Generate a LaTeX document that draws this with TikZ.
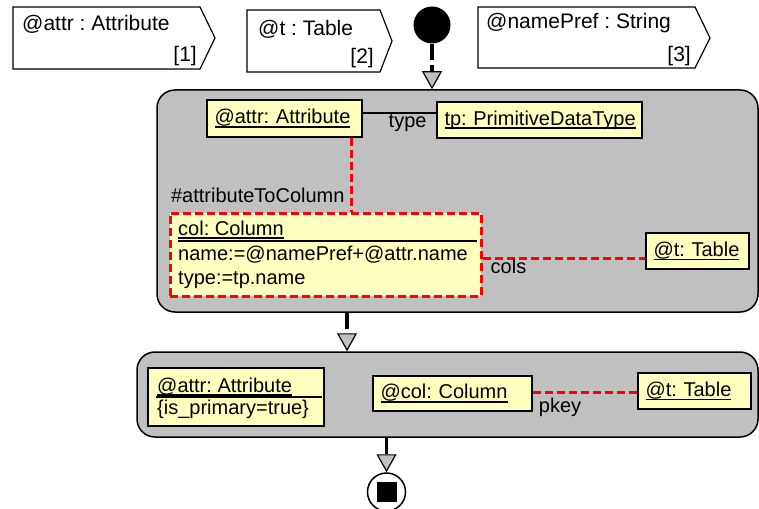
\documentclass[tikz,border=0pt]{standalone}
\usepackage{fontspec}
\setmainfont{Liberation Sans}
\usetikzlibrary{arrows.meta}
\frenchspacing

\definecolor{actgray}{RGB}{192,192,192}
\definecolor{objyellow}{RGB}{255,255,192}

% object name with a heavy underline
\newcommand{\objname}[1]{\setbox0\hbox{#1}\rlap{\rule[-3.8pt]{\wd0}{1.6pt}}\box0}

\tikzset{
  action/.style={draw, line width=1.5pt, fill=actgray, rounded corners=18pt, inner sep=0pt},
  object/.style={draw, line width=1.5pt, fill=objyellow, inner xsep=7.5pt, inner ysep=0pt,
    align=left, font=\fontsize{20}{24}\selectfont},
  newobj/.style={draw=red, line width=3pt, dash pattern=on 8pt off 4pt, fill=objyellow, inner sep=0pt},
  lbl/.style={inner sep=0pt, text=black, font=\fontsize{20}{24}\selectfont},
  paramlbl/.style={inner sep=0pt, font=\fontsize{21}{25}\selectfont},
  param/.style={draw, line width=1.2pt, fill=white},
  link/.style={line width=1.5pt},
  newlink/.style={red, line width=3pt, dash pattern=on 8pt off 4pt},
  flow/.style={line width=3.5pt, dash pattern=on 16pt off 5pt,
    -{Triangle[width=20pt, length=18pt, fill=actgray, line width=1.2pt]}},
}

\begin{document}
\begin{tikzpicture}[x=1pt, y=-1pt]
\useasboundingbox (0,0) rectangle (759,508);

% parameters
\draw[param] (13,7) -- (200,7) -- (215,38) -- (200,69) -- (13,69) -- cycle;
\node[paramlbl, anchor=base west] (p1name) at (22,31) {@attr : Attribute};
\node[paramlbl, anchor=base east] (p1idx) at (197,62) {[1]};
\draw[param] (247,10) -- (380,10) -- (392,41) -- (380,72) -- (247,72) -- cycle;
\node[paramlbl, anchor=base west] (p2name) at (258,36) {@t : Table};
\node[paramlbl, anchor=base east] (p2idx) at (374,64) {[2]};
\draw[param] (478,7) -- (695,7) -- (710,38) -- (695,68) -- (478,68) -- cycle;
\node[paramlbl, anchor=base west] (p3name) at (486,29) {@namePref : String};
\node[paramlbl, anchor=base east] (p3idx) at (691,62) {[3]};

% activities
\node[circle, fill=black, minimum size=37pt, inner sep=0pt] (start) at (432,25) {};
\node[action, minimum width=601pt, minimum height=222pt] (act1) at (457.5,201) {};
\node[action, minimum width=621pt, minimum height=85pt] (act2) at (447.5,394.5) {};
\node[circle, draw, line width=1.5pt, fill=white, minimum size=38pt, inner sep=0pt,
  path picture={\fill[black] ([shift={(-10pt,-10pt)}]path picture bounding box.center)
    rectangle ([shift={(10pt,10pt)}]path picture bounding box.center);}] (final) at (386.5,492) {};

% first activity
\node[object, text width=140pt, minimum height=37pt] (attr1) at (284.5,118.5) {\objname{@attr: Attribute}};
\node[object, text width=190pt, minimum height=36pt] (tp) at (539.5,120) {\objname{tp: PrimitiveDataType}};
\node[object, text width=88pt, minimum height=36pt] (tab1) at (697.5,251) {\objname{@t: Table}};
\node[newobj, minimum width=311pt, minimum height=83pt] (col) at (325.5,254.5) {};
\node[lbl, anchor=base west] (colname) at (178,235) {\objname{col: Column}};
\draw[link] (178,241) -- (477,241);
\node[lbl, anchor=base west] (colattr1) at (178,260) {name:=@namePref+@attr.name};
\node[lbl, anchor=base west] (colattr2) at (178,284) {type:=tp.name};

\draw[link] ([yshift=5.5pt]attr1.east) -- ([yshift=5.5pt]attr1.east -| tp.west)
  node[lbl, anchor=base east, xshift=-9pt, yshift=-15pt] (typelbl) {type};
\draw[newlink] ([xshift=66.5pt]attr1.south) -- ([xshift=66.5pt]attr1.south |- col.north)
  node[lbl, anchor=base east, xshift=-5pt, yshift=9pt] (maplbl) {\#attributeToColumn};
\draw[newlink] ([yshift=-3.5pt]col.east) -- ([yshift=-3.5pt]col.east -| tab1.west);
\node[lbl, anchor=base west] (colslbl) at ([xshift=8pt, yshift=-19pt]col.east) {cols};

% second activity
\node[object, minimum width=176pt, minimum height=58pt] (attr2) at (236,397) {};
\node[lbl, anchor=base west] (attr2name) at (157,392) {\objname{@attr: Attribute}};
\draw[link] (156,397) -- (322,397);
\node[lbl, anchor=base west] (attr2cond) at (157,414) {\{is\_primary=true\}};
\node[object, text width=144pt, minimum height=35pt] (colref) at (452.5,393.5) {\objname{@col: Column}};
\node[object, text width=98pt, minimum height=36pt] (tab2) at (694.5,391) {\objname{@t: Table}};
\draw[newlink] ([yshift=1.5pt]colref.east) -- ([yshift=1.5pt]colref.east -| tab2.west);
\node[lbl, anchor=base west] (pkeylbl) at ([xshift=6pt, yshift=-18.5pt]colref.east) {pkey};

% control flow
\coordinate (j1) at (347,0);
\draw[flow] (start.south) -- (start.south |- act1.north);
\draw[flow] (j1 |- act1.south) -- (j1 |- act2.north);
\draw[flow] (final.north |- act2.south) -- (final.north);
\end{tikzpicture}
\end{document}
